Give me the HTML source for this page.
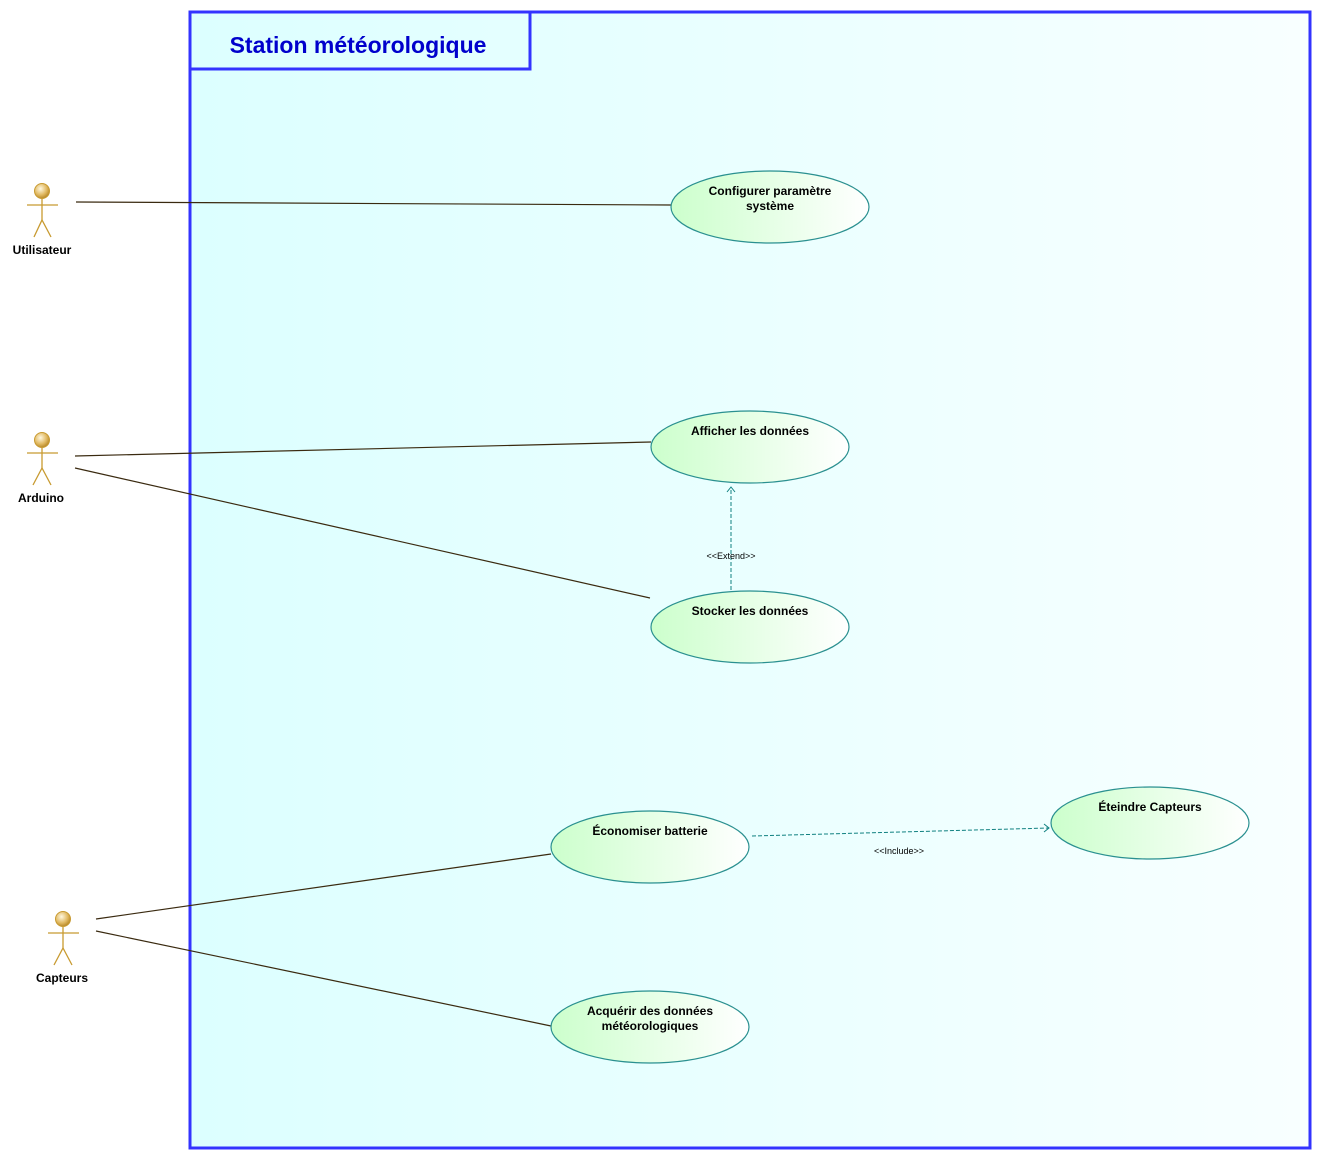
<!DOCTYPE html>
<html><head><meta charset="utf-8"><style>
html,body{margin:0;padding:0;background:#fff;}
svg{display:block;}
text{font-family:"Liberation Sans",sans-serif;}
</style></head><body>
<svg width="1322" height="1160" viewBox="0 0 1322 1160" xmlns="http://www.w3.org/2000/svg">
<defs>
<linearGradient id="bg" x1="0" x2="1" y1="0" y2="0"><stop offset="0" stop-color="#dcffff"/><stop offset="1" stop-color="#f8ffff"/></linearGradient>
<linearGradient id="uc" x1="0" x2="1" y1="0" y2="0"><stop offset="0" stop-color="#ccffcc"/><stop offset="1" stop-color="#ffffff"/></linearGradient>
<radialGradient id="hd" cx="0.4" cy="0.35" r="0.7"><stop offset="0" stop-color="#fff8e0"/><stop offset="0.6" stop-color="#e0b860"/><stop offset="1" stop-color="#b08020"/></radialGradient>
</defs>
<rect x="190" y="12" width="1120" height="1136" fill="url(#bg)" stroke="#3333ff" stroke-width="3"/>
<rect x="190" y="12" width="340" height="57" fill="none" stroke="#3333ff" stroke-width="3"/>
<text x="358" y="53" text-anchor="middle" font-size="23" font-weight="bold" fill="#0000cc">Station météorologique</text>

<g stroke="#3a2a10" stroke-width="1.2" fill="none">
<line x1="76" y1="202" x2="671" y2="205"/>
<line x1="75" y1="456" x2="651" y2="442"/>
<line x1="75" y1="468" x2="650" y2="598"/>
<line x1="96" y1="919" x2="551" y2="854"/>
<line x1="96" y1="931" x2="551" y2="1026"/>
</g>
<g stroke="#108080" stroke-width="1" fill="none" stroke-dasharray="4,2">
<line x1="731" y1="590" x2="731" y2="488"/>
<line x1="752" y1="836" x2="1049" y2="828"/>
</g>
<g stroke="#108080" stroke-width="1" fill="none">
<polyline points="727,492 731,487 735,492"/>
<polyline points="1044,824 1049,828 1044,832"/>
</g>
<text x="731" y="559" text-anchor="middle" font-size="9" fill="#000">&lt;&lt;Extend&gt;&gt;</text>
<text x="899" y="854" text-anchor="middle" font-size="9" fill="#000">&lt;&lt;Include&gt;&gt;</text>

<g fill="url(#uc)" stroke="#2a9090" stroke-width="1.2">
<ellipse cx="770" cy="207" rx="99" ry="36"/>
<ellipse cx="750" cy="447" rx="99" ry="36"/>
<ellipse cx="750" cy="627" rx="99" ry="36"/>
<ellipse cx="650" cy="847" rx="99" ry="36"/>
<ellipse cx="1150" cy="823" rx="99" ry="36"/>
<ellipse cx="650" cy="1027" rx="99" ry="36"/>
</g>
<g font-size="12" font-weight="bold" fill="#000" text-anchor="middle">
<text x="770" y="195">Configurer paramètre</text>
<text x="770" y="210">système</text>
<text x="750" y="435">Afficher les données</text>
<text x="750" y="615">Stocker les données</text>
<text x="650" y="835">Économiser batterie</text>
<text x="1150" y="811">Éteindre Capteurs</text>
<text x="650" y="1015">Acquérir des données</text>
<text x="650" y="1030">météorologiques</text>
</g>

<g stroke="#c89a30" stroke-width="1.3" fill="none">
<line x1="42" y1="199" x2="42" y2="220"/><line x1="27" y1="205" x2="58" y2="205"/><polyline points="34,237 42,220 51,237"/>
<line x1="42" y1="448" x2="42" y2="468"/><line x1="27" y1="453" x2="58" y2="453"/><polyline points="33,485 42,468 51,485"/>
<line x1="63" y1="927" x2="63" y2="948"/><line x1="48" y1="933" x2="79" y2="933"/><polyline points="54,965 63,948 72,965"/>
</g>
<circle cx="42" cy="191" r="7.5" fill="url(#hd)" stroke="#c89a30"/>
<circle cx="42" cy="440" r="7.5" fill="url(#hd)" stroke="#c89a30"/>
<circle cx="63" cy="919" r="7.5" fill="url(#hd)" stroke="#c89a30"/>
<g font-size="12" font-weight="bold" fill="#000" text-anchor="middle">
<text x="42" y="254">Utilisateur</text>
<text x="41" y="502">Arduino</text>
<text x="62" y="982">Capteurs</text>
</g>
</svg>
</body></html>
